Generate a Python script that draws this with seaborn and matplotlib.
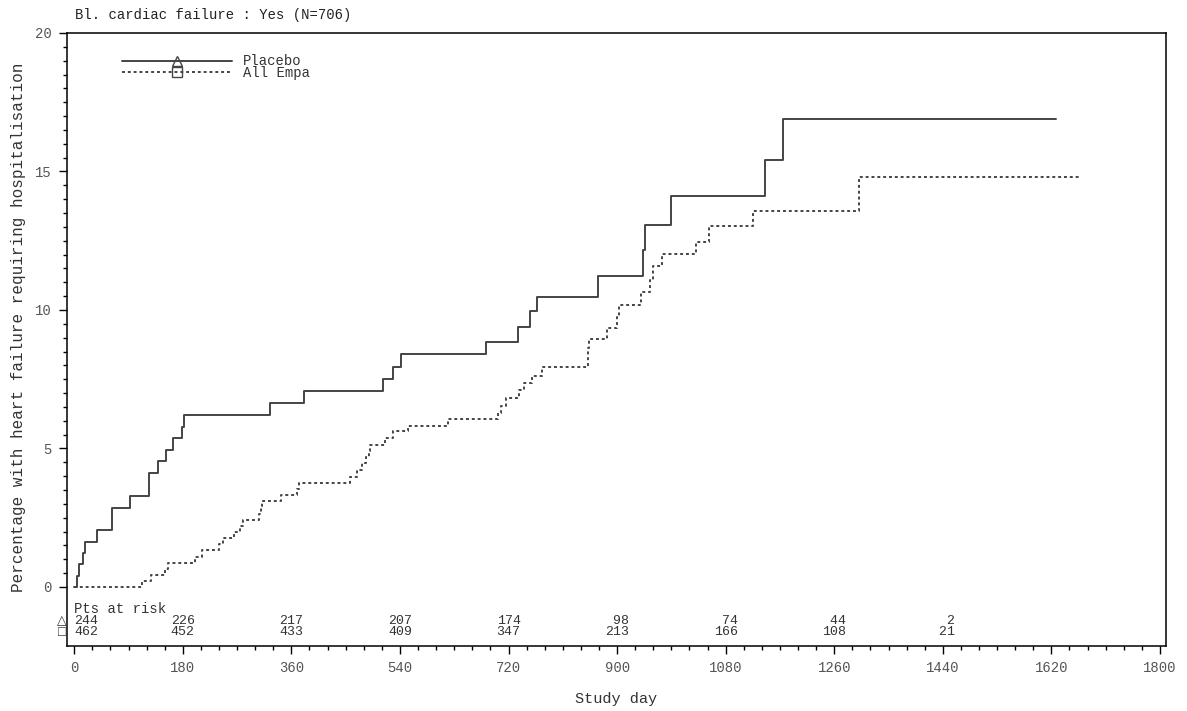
import pandas as pd
import seaborn as sns
import matplotlib.pyplot as plt
from matplotlib.lines import Line2D
from matplotlib.ticker import MultipleLocator, FixedLocator

# Courbes cumulées (%)
placebo_jour = [0, 5, 8, 14, 18, 38, 62, 63, 93, 124, 139, 152, 163, 178, 182, 324, 381,
                512, 528, 542, 682, 736, 755, 767, 868, 943, 947, 989, 1145, 1175, 1627]
placebo_pct = [0, 0.41, 0.82, 1.23, 1.64, 2.05, 2.46, 2.87, 3.28, 4.1, 4.55, 4.96, 5.37, 5.79, 6.2, 6.63, 7.07,
               7.5, 7.93, 8.4, 8.83, 9.37, 9.95, 10.46, 11.22, 12.15, 13.08, 14.1, 15.43, 16.9, 16.9]

empa_jour = [0, 112, 127, 151, 156, 201, 211, 240, 246, 265, 274, 279, 307, 309, 311, 342, 370, 372,
             458, 469, 477, 484, 488, 491, 516, 528, 553, 619, 702, 708, 715, 738, 746, 759, 775,
             851, 852, 854, 883, 900, 903, 940, 955, 959, 975, 1030, 1052, 1126, 1301, 1668]
empa_pct = [0, 0.22, 0.43, 0.65, 0.87, 1.1, 1.32, 1.54, 1.76, 1.98, 2.2, 2.43, 2.65, 2.87, 3.09, 3.33, 3.55, 3.76,
            3.98, 4.24, 4.48, 4.7, 4.92, 5.14, 5.39, 5.63, 5.81, 6.05, 6.28, 6.53, 6.84, 7.1, 7.38, 7.62, 7.96,
            8.28, 8.62, 8.97, 9.35, 9.75, 10.18, 10.64, 11.1, 11.6, 12.03, 12.47, 13.03, 13.56, 14.8, 14.8]

# Patients à risque
risque_jours = [0, 180, 360, 540, 720, 900, 1080, 1260, 1440]
risque_placebo = [244, 226, 217, 207, 174, 98, 74, 44, 2]
risque_empa = [462, 452, 433, 409, 347, 213, 166, 108, 21]

df = pd.concat([
    pd.DataFrame({'jour': placebo_jour, 'pct': placebo_pct, 'bras': 'Placebo'}),
    pd.DataFrame({'jour': empa_jour, 'pct': empa_pct, 'bras': 'All Empa'}),
])

sns.set_style('ticks')
plt.rcParams['font.family'] = ['Liberation Mono', 'DejaVu Sans']
gris = '#444444'

fig = plt.figure(figsize=(11.87, 7.11), dpi=100)
ax = fig.add_axes([67 / 1187, 1 - 646 / 711, 1099 / 1187, 613 / 711])

sns.lineplot(data=df, x='jour', y='pct', hue='bras', style='bras',
             palette={'Placebo': gris, 'All Empa': gris},
             dashes={'Placebo': '', 'All Empa': (1.5, 1.5)},
             estimator=None, drawstyle='steps-post', linewidth=1.4,
             legend=False, ax=ax)

ax.set_xlim(-12, 1810)
ax.set_ylim(-2.13, 20)
ax.xaxis.set_major_locator(MultipleLocator(180))
ax.xaxis.set_minor_locator(MultipleLocator(30))
ax.yaxis.set_major_locator(FixedLocator([0, 5, 10, 15, 20]))
ax.yaxis.set_minor_locator(FixedLocator([v / 2 for v in range(0, 41)]))
ax.tick_params(which='major', direction='out', length=6, width=1, color='black',
               labelsize=10, labelcolor='#555555', pad=5)
ax.tick_params(which='minor', direction='out', length=3, width=1, color='black')
for s in ax.spines.values():
    s.set_visible(True)
    s.set_color('black')
    s.set_linewidth(1.1)

ax.set_xlabel('Study day', fontsize=11, color='#333333', labelpad=12)
ax.set_ylabel('Percentage with heart failure requiring hospitalisation',
              fontsize=11.5, color='#333333')
ax.yaxis.set_label_coords(-0.037, 0.52)

fig.text(75 / 1187, 1 - 15 / 711, 'Bl. cardiac failure : Yes (N=706)',
         fontsize=10, color='#222222', va='center')

# légende
poignees = [
    Line2D([], [], color=gris, lw=1.4, ls='-', marker='^', ms=7, mfc='none', mec=gris),
    Line2D([], [], color=gris, lw=1.4, ls=(0, (1.5, 1.5)), marker='s', ms=7, mfc='none', mec=gris),
]
ax.legend(poignees, ['Placebo', 'All Empa'], loc='upper left', bbox_to_anchor=(0.05, 0.965),
          frameon=False, borderpad=0, borderaxespad=0, handlelength=7.9, handletextpad=0.8,
          labelspacing=-0.2, numpoints=1, prop={'family': 'Liberation Mono', 'size': 10},
          labelcolor='#333333')

# tableau des patients à risque
ax.text(0, -0.78, 'Pts at risk', fontsize=10, color='#333333', va='center', ha='left')
ax.text(-20, -1.22, '\u25b3', fontsize=9, color='#333333', va='center', ha='center', clip_on=False)
ax.text(-20, -1.62, '\u25a1', fontsize=10, color='#333333', va='center', ha='center', clip_on=False)
for j, n1, n2 in zip(risque_jours, risque_placebo, risque_empa):
    ha = 'left' if j == 0 else 'center'
    ax.text(j, -1.22, f'{n1:>3d}', fontsize=9.5, color='#333333', va='center', ha=ha)
    ax.text(j, -1.62, f'{n2:>3d}', fontsize=9.5, color='#333333', va='center', ha=ha)

fig.savefig('out.png', dpi=100)
